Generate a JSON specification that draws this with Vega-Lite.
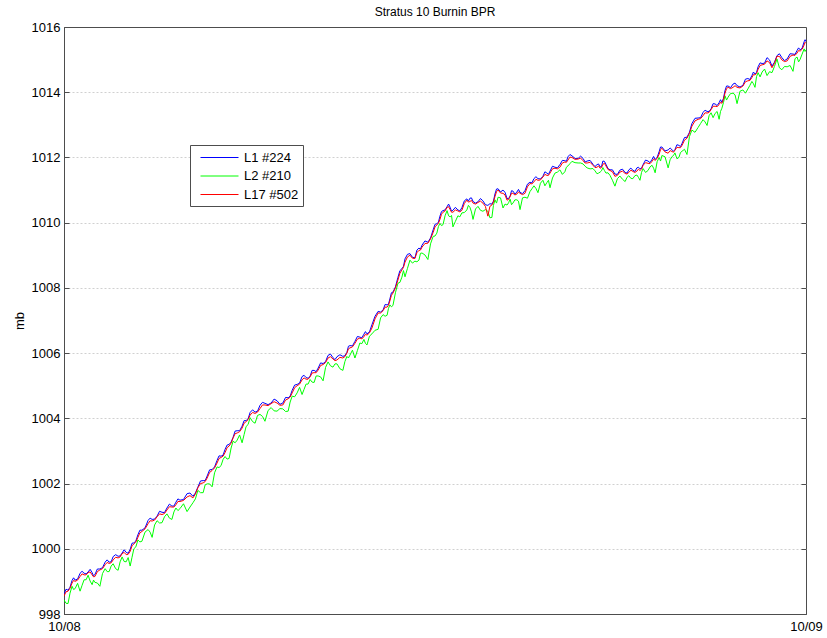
{
"$schema": "https://vega.github.io/schema/vega-lite/v6.json",
"autosize": {"type": "none"},
"padding": {"left": 64, "top": 27, "right": 21, "bottom": 24},
"width": 742, "height": 587,
"background": "white",
"config": {"font": "Liberation Sans", "view": {"stroke": "#4d4d4d", "strokeWidth": 1}},
"title": {"text": "Stratus 10 Burnin BPR", "fontSize": 12, "fontWeight": "normal", "font": "Liberation Sans", "color": "#000000", "offset": 2, "anchor": "middle"},
"data": {"values": [
{"t":0,"a":998.61,"b":998.43,"c":998.55},
{"t":0.13,"a":998.73,"b":998.32,"c":998.7},
{"t":0.26,"a":999.03,"b":998.85,"c":998.95},
{"t":0.36,"a":999.04,"b":998.78,"c":999.0},
{"t":0.52,"a":999.25,"b":998.70,"c":999.15},
{"t":0.65,"a":999.25,"b":999.05,"c":999.2},
{"t":0.78,"a":999.29,"b":999.19,"c":999.27},
{"t":0.91,"a":999.27,"b":998.90,"c":999.2},
{"t":1.00,"a":999.21,"b":998.97,"c":999.15},
{"t":1.16,"a":999.38,"b":998.85,"c":999.35},
{"t":1.33,"a":999.59,"b":999.39,"c":999.51},
{"t":1.46,"a":999.59,"b":999.30,"c":999.55},
{"t":1.59,"a":999.76,"b":999.54,"c":999.66},
{"t":1.75,"a":999.77,"b":999.34,"c":999.72},
{"t":1.88,"a":999.87,"b":999.75,"c":999.85},
{"t":2.01,"a":999.89,"b":999.60,"c":999.82},
{"t":2.14,"a":999.98,"b":999.47,"c":999.92},
{"t":2.26,"a":1000.18,"b":1000.00,"c":1000.15},
{"t":2.39,"a":1000.43,"b":1000.27,"c":1000.35},
{"t":2.52,"a":1000.57,"b":1000.23,"c":1000.53},
{"t":2.72,"a":1000.87,"b":1000.59,"c":1000.77},
{"t":2.85,"a":1000.90,"b":1000.35,"c":1000.85},
{"t":3.01,"a":1001.00,"b":1000.86,"c":1000.98},
{"t":3.17,"a":1001.12,"b":1000.80,"c":1001.05},
{"t":3.33,"a":1001.25,"b":1001.07,"c":1001.19},
{"t":3.49,"a":1001.31,"b":1000.90,"c":1001.28},
{"t":3.62,"a":1001.43,"b":1001.25,"c":1001.35},
{"t":3.75,"a":1001.49,"b":1001.23,"c":1001.45},
{"t":3.98,"a":1001.69,"b":1001.14,"c":1001.59},
{"t":4.17,"a":1001.61,"b":1001.41,"c":1001.56},
{"t":4.33,"a":1001.89,"b":1001.79,"c":1001.87},
{"t":4.50,"a":1002.09,"b":1001.72,"c":1002.02},
{"t":4.63,"a":1002.23,"b":1001.99,"c":1002.17},
{"t":4.79,"a":1002.43,"b":1001.90,"c":1002.4},
{"t":4.95,"a":1002.71,"b":1002.51,"c":1002.63},
{"t":5.08,"a":1002.84,"b":1002.55,"c":1002.8},
{"t":5.21,"a":1003.05,"b":1002.83,"c":1002.95},
{"t":5.34,"a":1003.20,"b":1002.77,"c":1003.15},
{"t":5.47,"a":1003.42,"b":1003.30,"c":1003.4},
{"t":5.60,"a":1003.62,"b":1003.33,"c":1003.55},
{"t":5.76,"a":1003.76,"b":1003.25,"c":1003.7},
{"t":5.89,"a":1003.93,"b":1003.75,"c":1003.9},
{"t":6.02,"a":1004.18,"b":1004.02,"c":1004.1},
{"t":6.18,"a":1004.19,"b":1003.85,"c":1004.15},
{"t":6.34,"a":1004.40,"b":1004.12,"c":1004.3},
{"t":6.50,"a":1004.46,"b":1003.91,"c":1004.41},
{"t":6.70,"a":1004.47,"b":1004.33,"c":1004.45},
{"t":6.89,"a":1004.54,"b":1004.22,"c":1004.47},
{"t":7.08,"a":1004.47,"b":1004.29,"c":1004.41},
{"t":7.25,"a":1004.63,"b":1004.22,"c":1004.6},
{"t":7.38,"a":1004.86,"b":1004.68,"c":1004.78},
{"t":7.54,"a":1005.04,"b":1004.78,"c":1005.0},
{"t":7.70,"a":1005.28,"b":1004.73,"c":1005.18},
{"t":7.83,"a":1005.25,"b":1005.05,"c":1005.2},
{"t":7.96,"a":1005.29,"b":1005.19,"c":1005.27},
{"t":8.09,"a":1005.47,"b":1005.10,"c":1005.4},
{"t":8.22,"a":1005.54,"b":1005.30,"c":1005.48},
{"t":8.38,"a":1005.68,"b":1005.15,"c":1005.65},
{"t":8.54,"a":1005.93,"b":1005.73,"c":1005.85},
{"t":8.70,"a":1005.86,"b":1005.57,"c":1005.82},
{"t":8.83,"a":1005.89,"b":1005.67,"c":1005.79},
{"t":9.02,"a":1005.90,"b":1005.47,"c":1005.85},
{"t":9.15,"a":1006.02,"b":1005.90,"c":1006.0},
{"t":9.25,"a":1006.23,"b":1005.94,"c":1006.16},
{"t":9.41,"a":1006.36,"b":1005.85,"c":1006.3},
{"t":9.57,"a":1006.49,"b":1006.31,"c":1006.46},
{"t":9.70,"a":1006.58,"b":1006.42,"c":1006.5},
{"t":9.80,"a":1006.59,"b":1006.25,"c":1006.55},
{"t":9.96,"a":1006.87,"b":1006.59,"c":1006.77},
{"t":10.16,"a":1007.28,"b":1006.73,"c":1007.23},
{"t":10.32,"a":1007.32,"b":1007.18,"c":1007.3},
{"t":10.45,"a":1007.48,"b":1007.16,"c":1007.41},
{"t":10.54,"a":1007.66,"b":1007.48,"c":1007.6},
{"t":10.64,"a":1007.87,"b":1007.46,"c":1007.84},
{"t":10.80,"a":1008.32,"b":1008.14,"c":1008.24},
{"t":10.93,"a":1008.59,"b":1008.33,"c":1008.55},
{"t":11.03,"a":1008.89,"b":1008.34,"c":1008.79},
{"t":11.19,"a":1009.05,"b":1008.85,"c":1009.0},
{"t":11.35,"a":1008.92,"b":1008.82,"c":1008.9},
{"t":11.48,"a":1009.22,"b":1008.85,"c":1009.15},
{"t":11.58,"a":1009.31,"b":1009.07,"c":1009.25},
{"t":11.77,"a":1009.40,"b":1008.87,"c":1009.37},
{"t":11.94,"a":1009.78,"b":1009.58,"c":1009.7},
{"t":12.06,"a":1009.97,"b":1009.68,"c":1009.93},
{"t":12.16,"a":1010.20,"b":1009.98,"c":1010.1},
{"t":12.26,"a":1010.37,"b":1009.94,"c":1010.32},
{"t":12.39,"a":1010.49,"b":1010.37,"c":1010.47},
{"t":12.49,"a":1010.47,"b":1010.18,"c":1010.4},
{"t":12.58,"a":1010.38,"b":1009.87,"c":1010.32},
{"t":12.74,"a":1010.39,"b":1010.21,"c":1010.36},
{"t":12.87,"a":1010.46,"b":1010.30,"c":1010.38},
{"t":13.03,"a":1010.73,"b":1010.39,"c":1010.69},
{"t":13.13,"a":1010.75,"b":1010.47,"c":1010.65},
{"t":13.23,"a":1010.65,"b":1010.10,"c":1010.6},
{"t":13.39,"a":1010.64,"b":1010.50,"c":1010.62},
{"t":13.55,"a":1010.67,"b":1010.35,"c":1010.6},
{"t":13.71,"a":1010.53,"b":1010.35,"c":1010.2},
{"t":13.84,"a":1010.57,"b":1010.16,"c":1010.54},
{"t":13.94,"a":1010.88,"b":1010.70,"c":1010.8},
{"t":14.04,"a":1011.04,"b":1010.78,"c":1011.0},
{"t":14.20,"a":1011.00,"b":1010.45,"c":1010.9},
{"t":14.33,"a":1010.74,"b":1010.54,"c":1010.69},
{"t":14.43,"a":1010.82,"b":1010.72,"c":1010.8},
{"t":14.52,"a":1010.97,"b":1010.60,"c":1010.9},
{"t":14.65,"a":1010.94,"b":1010.70,"c":1010.88},
{"t":14.75,"a":1010.93,"b":1010.40,"c":1010.9},
{"t":14.91,"a":1010.98,"b":1010.78,"c":1010.9},
{"t":15.07,"a":1011.24,"b":1010.95,"c":1011.2},
{"t":15.20,"a":1011.35,"b":1011.13,"c":1011.25},
{"t":15.33,"a":1011.35,"b":1010.92,"c":1011.3},
{"t":15.49,"a":1011.42,"b":1011.30,"c":1011.4},
{"t":15.62,"a":1011.52,"b":1011.23,"c":1011.45},
{"t":15.72,"a":1011.58,"b":1011.07,"c":1011.52},
{"t":15.88,"a":1011.70,"b":1011.52,"c":1011.67},
{"t":16.04,"a":1011.78,"b":1011.62,"c":1011.7},
{"t":16.20,"a":1011.90,"b":1011.56,"c":1011.86},
{"t":16.30,"a":1012.02,"b":1011.74,"c":1011.92},
{"t":16.43,"a":1012.05,"b":1011.88,"c":1012.0},
{"t":16.63,"a":1011.97,"b":1011.83,"c":1011.95},
{"t":16.79,"a":1011.97,"b":1011.80,"c":1011.9},
{"t":16.92,"a":1011.89,"b":1011.68,"c":1011.83},
{"t":17.11,"a":1011.79,"b":1011.66,"c":1011.76},
{"t":17.24,"a":1011.78,"b":1011.50,"c":1011.7},
{"t":17.34,"a":1011.71,"b":1011.55,"c":1011.67},
{"t":17.43,"a":1011.89,"b":1011.69,"c":1011.79},
{"t":17.53,"a":1011.79,"b":1011.52,"c":1011.74},
{"t":17.66,"a":1011.62,"b":1011.45,"c":1011.6},
{"t":17.82,"a":1011.49,"b":1011.12,"c":1011.42},
{"t":17.98,"a":1011.61,"b":1011.43,"c":1011.55},
{"t":18.15,"a":1011.54,"b":1011.26,"c":1011.51},
{"t":18.27,"a":1011.62,"b":1011.44,"c":1011.54},
{"t":18.40,"a":1011.61,"b":1011.35,"c":1011.57},
{"t":18.53,"a":1011.68,"b":1011.46,"c":1011.58},
{"t":18.63,"a":1011.65,"b":1011.30,"c":1011.6},
{"t":18.73,"a":1011.78,"b":1011.66,"c":1011.76},
{"t":18.89,"a":1011.89,"b":1011.60,"c":1011.82},
{"t":19.02,"a":1011.94,"b":1011.76,"c":1011.88},
{"t":19.12,"a":1011.94,"b":1011.53,"c":1011.91},
{"t":19.25,"a":1012.18,"b":1012.00,"c":1012.1},
{"t":19.34,"a":1012.32,"b":1012.06,"c":1012.28},
{"t":19.54,"a":1012.23,"b":1011.68,"c":1012.13},
{"t":19.67,"a":1012.23,"b":1012.03,"c":1012.18},
{"t":19.76,"a":1012.24,"b":1012.14,"c":1012.22},
{"t":19.89,"a":1012.37,"b":1012.00,"c":1012.3},
{"t":19.99,"a":1012.43,"b":1012.19,"c":1012.37},
{"t":20.15,"a":1012.62,"b":1012.09,"c":1012.59},
{"t":20.31,"a":1013.04,"b":1012.84,"c":1012.96},
{"t":20.51,"a":1013.21,"b":1012.92,"c":1013.17},
{"t":20.67,"a":1013.38,"b":1013.16,"c":1013.28},
{"t":20.80,"a":1013.41,"b":1012.98,"c":1013.36},
{"t":20.93,"a":1013.49,"b":1013.37,"c":1013.47},
{"t":21.06,"a":1013.64,"b":1013.35,"c":1013.57},
{"t":21.19,"a":1013.68,"b":1013.17,"c":1013.62},
{"t":21.28,"a":1013.69,"b":1013.51,"c":1013.66},
{"t":21.38,"a":1014.05,"b":1013.89,"c":1013.97},
{"t":21.48,"a":1014.19,"b":1013.85,"c":1014.15},
{"t":21.64,"a":1014.25,"b":1013.97,"c":1014.15},
{"t":21.77,"a":1014.20,"b":1013.65,"c":1014.15},
{"t":21.96,"a":1014.21,"b":1014.07,"c":1014.19},
{"t":22.12,"a":1014.42,"b":1014.10,"c":1014.35},
{"t":22.25,"a":1014.51,"b":1014.33,"c":1014.45},
{"t":22.35,"a":1014.56,"b":1014.15,"c":1014.53},
{"t":22.45,"a":1014.78,"b":1014.60,"c":1014.7},
{"t":22.58,"a":1014.88,"b":1014.62,"c":1014.84},
{"t":22.74,"a":1015.06,"b":1014.51,"c":1014.96},
{"t":22.90,"a":1014.80,"b":1014.60,"c":1014.75},
{"t":23.06,"a":1015.12,"b":1015.02,"c":1015.1},
{"t":23.22,"a":1015.06,"b":1014.69,"c":1014.99},
{"t":23.39,"a":1015.02,"b":1014.78,"c":1014.96},
{"t":23.58,"a":1015.17,"b":1014.64,"c":1015.14},
{"t":23.71,"a":1015.28,"b":1015.08,"c":1015.2},
{"t":23.81,"a":1015.30,"b":1015.01,"c":1015.26},
{"t":23.94,"a":1015.55,"b":1015.33,"c":1015.45},
{"t":24.0,"a":1015.55,"b":1015.30,"c":1015.5},
{"t":0.065,"a":998.76,"b":998.33,"c":998.68},
{"t":0.195,"a":998.82,"b":998.64,"c":998.79},
{"t":0.31,"a":999.11,"b":998.75,"c":999.03},
{"t":0.44,"a":999.07,"b":998.94,"c":999.04},
{"t":0.585,"a":999.31,"b":998.88,"c":999.23},
{"t":0.715,"a":999.23,"b":999.05,"c":999.20},
{"t":0.845,"a":999.37,"b":999.01,"c":999.29},
{"t":0.955,"a":999.17,"b":999.04,"c":999.14},
{"t":1.08,"a":999.38,"b":998.95,"c":999.30},
{"t":1.245,"a":999.42,"b":999.24,"c":999.39},
{"t":1.395,"a":999.66,"b":999.30,"c":999.58},
{"t":1.525,"a":999.60,"b":999.47,"c":999.57},
{"t":1.67,"a":999.82,"b":999.39,"c":999.74},
{"t":1.815,"a":999.78,"b":999.60,"c":999.75},
{"t":1.945,"a":999.97,"b":999.61,"c":999.89},
{"t":2.075,"a":999.86,"b":999.73,"c":999.83},
{"t":2.20,"a":1000.17,"b":999.74,"c":1000.09},
{"t":2.325,"a":1000.24,"b":1000.06,"c":1000.21},
{"t":2.455,"a":1000.57,"b":1000.21,"c":1000.49},
{"t":2.62,"a":1000.64,"b":1000.51,"c":1000.61},
{"t":2.785,"a":1000.94,"b":1000.51,"c":1000.86},
{"t":2.93,"a":1000.91,"b":1000.73,"c":1000.88},
{"t":3.09,"a":1001.15,"b":1000.79,"c":1001.07},
{"t":3.25,"a":1001.11,"b":1000.98,"c":1001.08},
{"t":3.41,"a":1001.37,"b":1000.94,"c":1001.29},
{"t":3.555,"a":1001.31,"b":1001.13,"c":1001.28},
{"t":3.685,"a":1001.53,"b":1001.17,"c":1001.45},
{"t":3.865,"a":1001.51,"b":1001.38,"c":1001.48},
{"t":4.075,"a":1001.71,"b":1001.28,"c":1001.63},
{"t":4.25,"a":1001.71,"b":1001.53,"c":1001.68},
{"t":4.415,"a":1002.08,"b":1001.72,"c":1002.00},
{"t":4.565,"a":1002.09,"b":1001.96,"c":1002.06},
{"t":4.71,"a":1002.42,"b":1001.99,"c":1002.34},
{"t":4.87,"a":1002.51,"b":1002.33,"c":1002.48},
{"t":5.015,"a":1002.85,"b":1002.49,"c":1002.77},
{"t":5.145,"a":1002.87,"b":1002.74,"c":1002.84},
{"t":5.275,"a":1003.18,"b":1002.75,"c":1003.10},
{"t":5.405,"a":1003.27,"b":1003.09,"c":1003.24},
{"t":5.535,"a":1003.61,"b":1003.25,"c":1003.53},
{"t":5.68,"a":1003.62,"b":1003.49,"c":1003.59},
{"t":5.825,"a":1003.93,"b":1003.50,"c":1003.85},
{"t":5.955,"a":1003.99,"b":1003.81,"c":1003.96},
{"t":6.10,"a":1004.26,"b":1003.90,"c":1004.18},
{"t":6.26,"a":1004.22,"b":1004.09,"c":1004.19},
{"t":6.42,"a":1004.49,"b":1004.06,"c":1004.41},
{"t":6.60,"a":1004.42,"b":1004.24,"c":1004.39},
{"t":6.795,"a":1004.59,"b":1004.23,"c":1004.51},
{"t":6.985,"a":1004.43,"b":1004.30,"c":1004.40},
{"t":7.165,"a":1004.64,"b":1004.21,"c":1004.56},
{"t":7.315,"a":1004.68,"b":1004.50,"c":1004.65},
{"t":7.46,"a":1005.02,"b":1004.66,"c":1004.94},
{"t":7.62,"a":1005.08,"b":1004.95,"c":1005.05},
{"t":7.765,"a":1005.32,"b":1004.89,"c":1005.24},
{"t":7.895,"a":1005.23,"b":1005.05,"c":1005.20},
{"t":8.025,"a":1005.47,"b":1005.11,"c":1005.39},
{"t":8.155,"a":1005.43,"b":1005.30,"c":1005.40},
{"t":8.30,"a":1005.70,"b":1005.27,"c":1005.62},
{"t":8.46,"a":1005.74,"b":1005.56,"c":1005.71},
{"t":8.62,"a":1005.97,"b":1005.61,"c":1005.89},
{"t":8.765,"a":1005.80,"b":1005.67,"c":1005.77},
{"t":8.925,"a":1005.95,"b":1005.52,"c":1005.87},
{"t":9.085,"a":1005.92,"b":1005.74,"c":1005.89},
{"t":9.20,"a":1006.21,"b":1005.85,"c":1006.13},
{"t":9.33,"a":1006.22,"b":1006.09,"c":1006.19},
{"t":9.49,"a":1006.51,"b":1006.08,"c":1006.43},
{"t":9.635,"a":1006.47,"b":1006.29,"c":1006.44},
{"t":9.75,"a":1006.66,"b":1006.30,"c":1006.58},
{"t":9.88,"a":1006.65,"b":1006.52,"c":1006.62},
{"t":10.06,"a":1007.13,"b":1006.70,"c":1007.05},
{"t":10.24,"a":1007.26,"b":1007.08,"c":1007.23},
{"t":10.385,"a":1007.49,"b":1007.13,"c":1007.41},
{"t":10.495,"a":1007.50,"b":1007.37,"c":1007.47},
{"t":10.59,"a":1007.85,"b":1007.42,"c":1007.77},
{"t":10.72,"a":1008.03,"b":1007.85,"c":1008.00},
{"t":10.865,"a":1008.53,"b":1008.17,"c":1008.45},
{"t":10.98,"a":1008.66,"b":1008.53,"c":1008.63},
{"t":11.11,"a":1009.03,"b":1008.60,"c":1008.95},
{"t":11.27,"a":1008.94,"b":1008.76,"c":1008.91},
{"t":11.415,"a":1009.16,"b":1008.80,"c":1009.08},
{"t":11.53,"a":1009.19,"b":1009.06,"c":1009.16},
{"t":11.675,"a":1009.44,"b":1009.01,"c":1009.36},
{"t":11.855,"a":1009.53,"b":1009.35,"c":1009.50},
{"t":12.00,"a":1009.95,"b":1009.59,"c":1009.87},
{"t":12.11,"a":1010.01,"b":1009.88,"c":1009.98},
{"t":12.21,"a":1010.34,"b":1009.91,"c":1010.26},
{"t":12.325,"a":1010.39,"b":1010.21,"c":1010.36},
{"t":12.44,"a":1010.57,"b":1010.21,"c":1010.49},
{"t":12.535,"a":1010.35,"b":1010.22,"c":1010.32},
{"t":12.66,"a":1010.47,"b":1010.04,"c":1010.39},
{"t":12.805,"a":1010.36,"b":1010.18,"c":1010.33},
{"t":12.95,"a":1010.67,"b":1010.31,"c":1010.59},
{"t":13.08,"a":1010.66,"b":1010.53,"c":1010.63},
{"t":13.18,"a":1010.76,"b":1010.33,"c":1010.68},
{"t":13.31,"a":1010.60,"b":1010.42,"c":1010.57},
{"t":13.47,"a":1010.74,"b":1010.38,"c":1010.66},
{"t":13.63,"a":1010.55,"b":1010.40,"c":1010.50},
{"t":13.775,"a":1010.58,"b":1010.15,"c":1010.50},
{"t":13.89,"a":1010.66,"b":1010.53,"c":1010.63},
{"t":13.99,"a":1011.03,"b":1010.60,"c":1010.95},
{"t":14.12,"a":1010.94,"b":1010.76,"c":1010.91},
{"t":14.265,"a":1010.93,"b":1010.57,"c":1010.85},
{"t":14.38,"a":1010.74,"b":1010.61,"c":1010.71},
{"t":14.475,"a":1010.98,"b":1010.55,"c":1010.90},
{"t":14.585,"a":1010.88,"b":1010.70,"c":1010.85},
{"t":14.70,"a":1011.02,"b":1010.66,"c":1010.94},
{"t":14.83,"a":1010.89,"b":1010.76,"c":1010.86},
{"t":14.99,"a":1011.18,"b":1010.75,"c":1011.10},
{"t":15.135,"a":1011.22,"b":1011.04,"c":1011.19},
{"t":15.265,"a":1011.41,"b":1011.05,"c":1011.33},
{"t":15.41,"a":1011.34,"b":1011.21,"c":1011.31},
{"t":15.555,"a":1011.56,"b":1011.13,"c":1011.48},
{"t":15.67,"a":1011.48,"b":1011.30,"c":1011.45},
{"t":15.80,"a":1011.73,"b":1011.37,"c":1011.65},
{"t":15.96,"a":1011.68,"b":1011.55,"c":1011.65},
{"t":16.12,"a":1011.91,"b":1011.48,"c":1011.83},
{"t":16.25,"a":1011.88,"b":1011.70,"c":1011.85},
{"t":16.365,"a":1012.09,"b":1011.81,"c":1012.01},
{"t":16.53,"a":1011.97,"b":1011.84,"c":1011.94},
{"t":16.71,"a":1012.04,"b":1011.83,"c":1011.98},
{"t":16.855,"a":1011.86,"b":1011.73,"c":1011.83},
{"t":17.015,"a":1011.91,"b":1011.65,"c":1011.85},
{"t":17.175,"a":1011.72,"b":1011.59,"c":1011.69},
{"t":17.29,"a":1011.80,"b":1011.52,"c":1011.74},
{"t":17.385,"a":1011.72,"b":1011.59,"c":1011.69},
{"t":17.48,"a":1011.88,"b":1011.60,"c":1011.82},
{"t":17.595,"a":1011.66,"b":1011.53,"c":1011.63},
{"t":17.74,"a":1011.62,"b":1011.30,"c":1011.56},
{"t":17.90,"a":1011.48,"b":1011.35,"c":1011.45},
{"t":18.065,"a":1011.64,"b":1011.33,"c":1011.58},
{"t":18.21,"a":1011.52,"b":1011.39,"c":1011.49},
{"t":18.335,"a":1011.67,"b":1011.36,"c":1011.61},
{"t":18.465,"a":1011.57,"b":1011.44,"c":1011.54},
{"t":18.58,"a":1011.70,"b":1011.39,"c":1011.64},
{"t":18.68,"a":1011.67,"b":1011.54,"c":1011.64},
{"t":18.81,"a":1011.92,"b":1011.54,"c":1011.84},
{"t":18.955,"a":1011.84,"b":1011.71,"c":1011.81},
{"t":19.07,"a":1012.03,"b":1011.67,"c":1011.95},
{"t":19.185,"a":1012.00,"b":1011.87,"c":1011.97},
{"t":19.295,"a":1012.32,"b":1011.89,"c":1012.24},
{"t":19.44,"a":1012.20,"b":1012.02,"c":1012.17},
{"t":19.605,"a":1012.29,"b":1011.93,"c":1012.21},
{"t":19.715,"a":1012.19,"b":1012.06,"c":1012.16},
{"t":19.825,"a":1012.39,"b":1011.96,"c":1012.31},
{"t":19.94,"a":1012.33,"b":1012.15,"c":1012.30},
{"t":20.07,"a":1012.61,"b":1012.25,"c":1012.53},
{"t":20.23,"a":1012.77,"b":1012.64,"c":1012.74},
{"t":20.41,"a":1013.20,"b":1012.77,"c":1013.12},
{"t":20.59,"a":1013.22,"b":1013.04,"c":1013.19},
{"t":20.735,"a":1013.45,"b":1013.09,"c":1013.37},
{"t":20.865,"a":1013.41,"b":1013.28,"c":1013.38},
{"t":20.995,"a":1013.65,"b":1013.22,"c":1013.57},
{"t":21.125,"a":1013.59,"b":1013.41,"c":1013.56},
{"t":21.235,"a":1013.77,"b":1013.41,"c":1013.69},
{"t":21.33,"a":1013.81,"b":1013.68,"c":1013.78},
{"t":21.43,"a":1014.19,"b":1013.76,"c":1014.11},
{"t":21.56,"a":1014.14,"b":1013.96,"c":1014.11},
{"t":21.705,"a":1014.28,"b":1013.92,"c":1014.20},
{"t":21.865,"a":1014.16,"b":1014.03,"c":1014.13},
{"t":22.04,"a":1014.40,"b":1013.97,"c":1014.32},
{"t":22.185,"a":1014.39,"b":1014.21,"c":1014.36},
{"t":22.30,"a":1014.62,"b":1014.26,"c":1014.54},
{"t":22.40,"a":1014.61,"b":1014.48,"c":1014.58},
{"t":22.515,"a":1014.90,"b":1014.47,"c":1014.82},
{"t":22.66,"a":1014.89,"b":1014.71,"c":1014.86},
{"t":22.82,"a":1014.99,"b":1014.63,"c":1014.91},
{"t":22.98,"a":1014.92,"b":1014.79,"c":1014.89},
{"t":23.14,"a":1015.18,"b":1014.75,"c":1015.10},
{"t":23.305,"a":1014.97,"b":1014.79,"c":1014.94},
{"t":23.485,"a":1015.18,"b":1014.82,"c":1015.10},
{"t":23.645,"a":1015.16,"b":1015.03,"c":1015.13},
{"t":23.76,"a":1015.36,"b":1014.93,"c":1015.28},
{"t":23.875,"a":1015.35,"b":1015.17,"c":1015.32},
{"t":23.97,"a":1015.61,"b":1015.25,"c":1015.53}
]},
"transform": [{"fold": ["a", "b", "c"], "as": ["s", "v"]}],
"layer": [
{"mark": {"type": "line", "opacity": 0},
 "encoding": {
  "x": {"field": "t", "type": "quantitative", "scale": {"domain": [0, 24], "nice": false, "zero": false},
        "axis": {"values": [0, 24], "labelExpr": "datum.value == 0 ? '10/08' : '10/09'", "title": null, "grid": false, "tickSize": -5, "labelFontSize": 13, "labelColor": "#000000", "domainColor": "#4d4d4d", "tickColor": "#4d4d4d", "labelPadding": 11, "labelFlush": false, "labelOverlap": false, "labelFont": "Liberation Sans"}},
  "y": {"field": "v", "type": "quantitative", "scale": {"domain": [998, 1016], "nice": false, "zero": false},
        "axis": {"orient": "right", "values": [1000, 1002, 1004, 1006, 1008, 1010, 1012, 1014], "labels": false, "title": null, "grid": true, "gridDash": [2, 2], "gridColor": "#d0d0d0", "domain": false, "tickSize": -5, "tickColor": "#4d4d4d"}},
  "detail": {"field": "s"}
 }},
{"mark": {"type": "line", "strokeWidth": 1, "clip": true},
 "encoding": {
  "x": {"field": "t", "type": "quantitative", "scale": {"domain": [0, 24], "nice": false, "zero": false}},
  "y": {"field": "v", "type": "quantitative", "scale": {"domain": [998, 1016], "nice": false, "zero": false},
        "axis": {"orient": "left", "values": [998, 1000, 1002, 1004, 1006, 1008, 1010, 1012, 1014, 1016], "format": "d", "title": "mb", "titleFontSize": 13, "titleFontWeight": "normal", "titleColor": "#000000", "titleFont": "Liberation Sans", "titlePadding": 5, "grid": false, "tickSize": -5, "labelFontSize": 13, "labelColor": "#000000", "labelFont": "Liberation Sans", "labelPadding": 9, "labelFlush": false, "domainColor": "#4d4d4d", "tickColor": "#4d4d4d"}},
  "color": {"field": "s", "type": "nominal", "scale": {"domain": ["a", "b", "c"], "range": ["#0000ff", "#00ff00", "#ff0000"]},
        "legend": {"title": null, "orient": "none", "legendX": 126, "legendY": 118, "labelExpr": "datum.value == 'a' ? 'L1 #224' : datum.value == 'b' ? 'L2 #210' : 'L17 #502'", "symbolType": "M-0.25,0L4.5,0", "symbolSize": 256, "symbolStrokeWidth": 1, "labelOffset": 33, "labelFontSize": 13, "labelFont": "Liberation Sans", "labelColor": "#000000", "strokeColor": "#4d4d4d", "fillColor": "white", "padding": 4, "rowPadding": 2.5}}
 }}
],
"resolve": {"scale": {"y": "independent"}}
}
